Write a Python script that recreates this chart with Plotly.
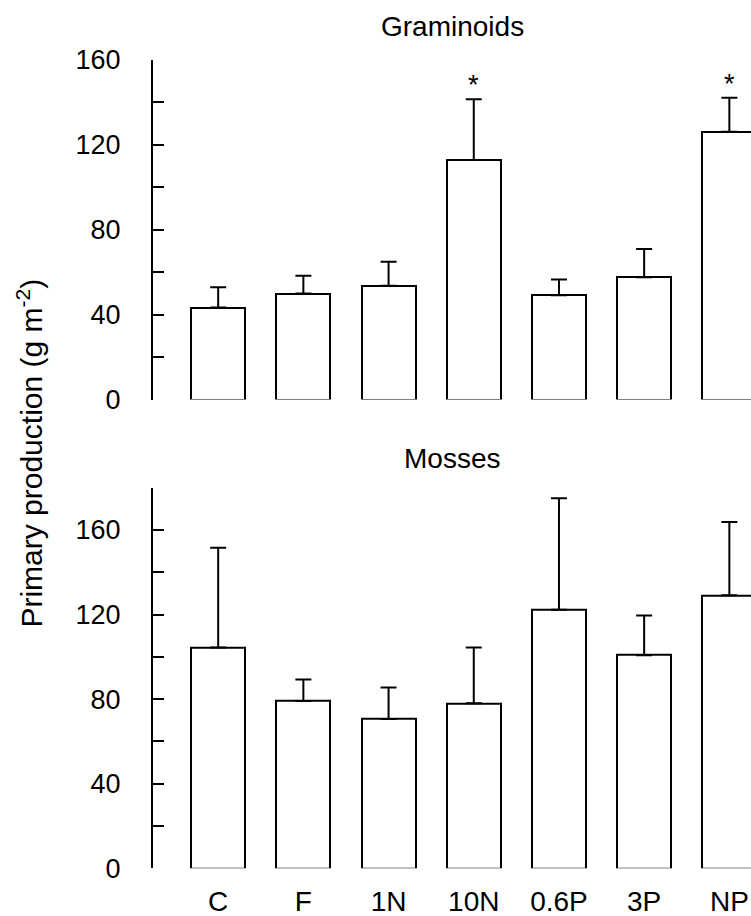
import plotly.graph_objects as go

categories = ["C", "F", "1N", "10N", "0.6P", "3P", "NP"]
graminoids = [43.3, 49.9, 53.6, 112.9, 49.1, 57.6, 126.2]
graminoids_se = [9.6, 8.4, 11.3, 28.6, 7.5, 13.3, 16.0]
mosses = [104.4, 79.1, 70.6, 78.0, 122.3, 100.8, 129.1]
mosses_se = [47.2, 10.2, 14.9, 26.4, 52.7, 18.7, 34.7]
significant = ["10N", "NP"]
ylabel = "Primary production (g m<sup>-2</sup>)"

W, H = 751, 916
L = 152.5
FONT = "Arial, Liberation Sans, sans-serif"
FS_TICK = 27
FS_TITLE = 28
FS_YLAB = 30

def bar(y, err, yaxis, xaxis):
    return go.Bar(
        x=categories, y=y, xaxis=xaxis, yaxis=yaxis,
        width=0.633,
        marker=dict(color="white", line=dict(color="black", width=2)),
        error_y=dict(type="data", array=err, arrayminus=[0]*len(err), symmetric=False,
                     color="black", thickness=2, width=8),
        showlegend=False,
        hoverinfo="skip",
    )

fig = go.Figure()
fig.add_trace(bar(graminoids, graminoids_se, "y", "x"))
fig.add_trace(bar(mosses, mosses_se, "y2", "x2"))

xr = [-0.765, 6.254]
top_dom = [1 - 399.5 / H, 1 - 60 / H]
bot_dom = [1 - 868.3 / H, 1 - 487.7 / H]

yax_common = dict(
    showline=True, linecolor="black", linewidth=2,
    ticks="inside", ticklen=11, tickwidth=2, tickcolor="black",
    dtick=40, tick0=0, showgrid=False, zeroline=False, automargin=False,
    tickfont=dict(family=FONT, size=FS_TICK, color="black"),
    ticklabelstandoff=25,
    minor=dict(dtick=20, tick0=0, ticks="inside", ticklen=11, tickwidth=2, tickcolor="black", showgrid=False),
)

fig.update_layout(
    width=W, height=H,
    margin=dict(l=L, r=0, t=0, b=0, pad=0),
    paper_bgcolor="white", plot_bgcolor="white",
    bargap=0,
    xaxis=dict(domain=[0, 1], range=xr, anchor="y", showline=False, showticklabels=False,
               ticks="", showgrid=False, zeroline=False, type="category", automargin=False),
    yaxis=dict(domain=top_dom, range=[0, 160], anchor="x", **yax_common),
    xaxis2=dict(domain=[0, 1], range=xr, anchor="y2", showline=False, showticklabels=True,
                ticks="", showgrid=False, zeroline=False, type="category", automargin=False,
                tickfont=dict(family=FONT, size=28, color="black"), ticklabelstandoff=14),
    yaxis2=dict(domain=bot_dom, range=[0, 180], anchor="x2", **yax_common),
    font=dict(family=FONT, color="black"),
)

annotations = [
    dict(text="Graminoids", x=0.5, y=1 - 27 / H, xref="paper", yref="paper",
         showarrow=False, font=dict(family=FONT, size=FS_TITLE, color="black"), xanchor="center", yanchor="middle"),
    dict(text="Mosses", x=0.5, y=1 - 458 / H, xref="paper", yref="paper",
         showarrow=False, font=dict(family=FONT, size=FS_TITLE, color="black"), xanchor="center", yanchor="middle"),
    dict(text=ylabel, x=(29 - L) / (W - L), y=1 - 453 / H, xref="paper", yref="paper",
         textangle=-90, showarrow=False, font=dict(family=FONT, size=FS_YLAB, color="black"),
         xanchor="center", yanchor="middle"),
]
for i, c in enumerate(categories):
    if c in significant:
        annotations.append(dict(text="*", x=c, y=graminoids[i] + graminoids_se[i], xref="x", yref="y",
                                showarrow=False, yshift=14, font=dict(family=FONT, size=FS_TICK, color="black"),
                                xanchor="center", yanchor="middle"))
fig.update_layout(annotations=annotations)

fig.write_html("out.html", config={"displayModeBar": False},
               post_script="document.body.style.margin='0';document.body.style.overflow='hidden';")
